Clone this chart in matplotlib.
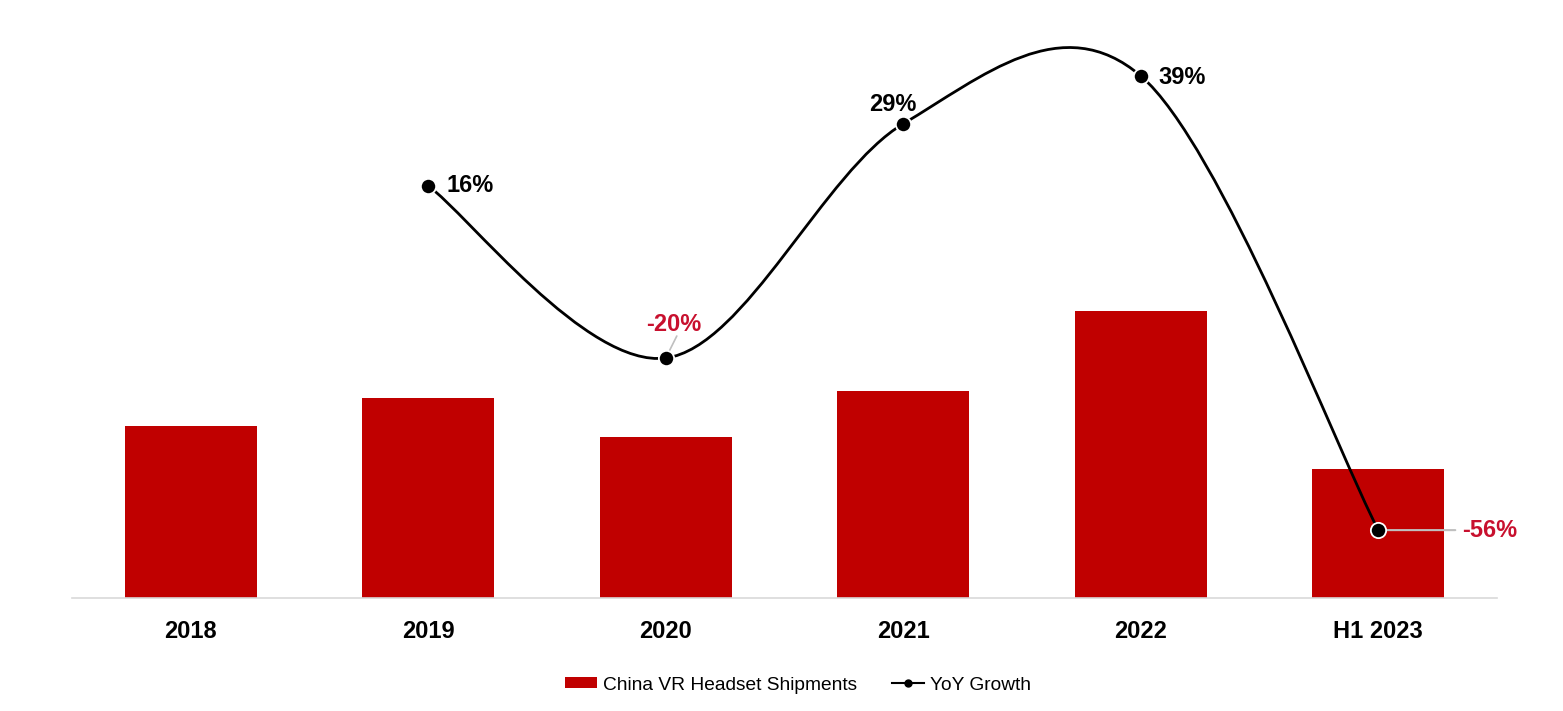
import matplotlib
matplotlib.use("Agg")
import matplotlib.pyplot as plt
from matplotlib.path import Path
from matplotlib.patches import PathPatch
from matplotlib.lines import Line2D
from matplotlib.patches import Patch

plt.rcParams['font.family'] = ['Liberation Sans', 'DejaVu Sans']

categories = ["2018", "2019", "2020", "2021", "2022", "H1 2023"]
shipments = [172, 200, 161, 207, 287, 129]
growth_x = [1, 2, 3, 4, 5]
growth = [16, -20, 29, 39, -56]
growth_labels = ["16%", "-20%", "29%", "39%", "-56%"]

RED = "#c00000"
LABEL_RED = "#c8102e"

fig = plt.figure(figsize=(15.63, 7.11), dpi=100)
ax = fig.add_axes([0.0461, 0.159, 0.9117, 0.799])
ax.bar(range(len(categories)), shipments, width=0.555, color=RED, zorder=2)
ax.set_xlim(-0.5, 5.5)
ax.set_ylim(0, 568)
ax.set_xticks(range(len(categories)))
ax.set_xticklabels(categories, fontsize=17, fontweight='bold')
ax.tick_params(axis='x', length=0, pad=16)
ax.set_yticks([])
for s in ['top', 'right', 'left']:
    ax.spines[s].set_visible(False)
ax.spines['bottom'].set_color('#d9d9d9')
ax.spines['bottom'].set_linewidth(1.2)

ax2 = ax.twinx()
ax2.set_ylim(-70.19, 48.64)
ax2.set_yticks([])
for s in ax2.spines.values():
    s.set_visible(False)

# smoothed line (Catmull-Rom as Bezier segments)
pts = list(zip(growth_x, growth))
verts = [pts[0]]
codes = [Path.MOVETO]
for i in range(len(pts) - 1):
    p0 = pts[i - 1] if i > 0 else pts[i]
    p1 = pts[i]
    p2 = pts[i + 1]
    p3 = pts[i + 2] if i + 2 < len(pts) else pts[i + 1]
    c1 = (p1[0] + (p2[0] - p0[0]) / 6, p1[1] + (p2[1] - p0[1]) / 6)
    c2 = (p2[0] - (p3[0] - p1[0]) / 6, p2[1] - (p3[1] - p1[1]) / 6)
    verts += [c1, c2, p2]
    codes += [Path.CURVE4] * 3
ax2.add_patch(PathPatch(Path(verts, codes), facecolor='none', edgecolor='black',
                        linewidth=2, zorder=3))
ax2.plot(growth_x, growth, linestyle='none', marker='o', markersize=11,
         markerfacecolor='black', markeredgecolor='white', markeredgewidth=1.3, zorder=4)

# data labels (offsets in pixels, y up)
offsets = [(18, 0), (8, 34), (-10, 19), (18, -2), (84, 0)]
has = ['left', 'center', 'center', 'left', 'left']
for x, y, lab, off, ha in zip(growth_x, growth, growth_labels, offsets, has):
    col = LABEL_RED if y < 0 else 'black'
    ax2.annotate(lab, (x, y), xytext=off, textcoords='offset pixels',
                 ha=ha, va='center', fontsize=17, fontweight='bold', color=col, zorder=5)

# leader lines
ax2.annotate("", (growth_x[1], growth[1]), xytext=(11, 22), textcoords='offset pixels',
             arrowprops=dict(arrowstyle='-', color='#bfbfbf', lw=1.2, shrinkA=0, shrinkB=6),
             zorder=2)
ax2.annotate("", (growth_x[4], growth[4]), xytext=(77, 0), textcoords='offset pixels',
             arrowprops=dict(arrowstyle='-', color='#bfbfbf', lw=1.5, shrinkA=0, shrinkB=6),
             zorder=3)

handles = [Patch(facecolor=RED, edgecolor='none'),
           Line2D([0], [0], color='black', lw=1.5, marker='o', markersize=5)]
fig.legend(handles, ["China VR Headset Shipments", "YoY Growth"],
           loc='center', bbox_to_anchor=(798 / 1563, 1 - 685 / 711), ncol=2,
           frameon=False, fontsize=13.8, columnspacing=1.8, handlelength=1.7,
           handletextpad=0.3, handleheight=0.5)

fig.savefig("out.png", dpi=100, facecolor='white')
